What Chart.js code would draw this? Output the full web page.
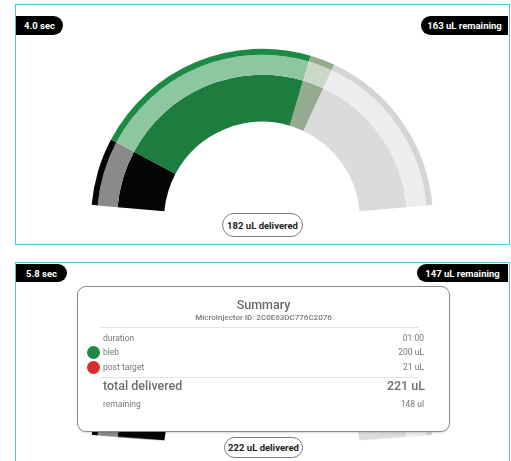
<!DOCTYPE html>
<html>
<head>
<meta charset="utf-8">
<script src="https://cdn.jsdelivr.net/npm/chart.js@4/dist/chart.umd.min.js"></script>
<style>
  html, body { margin: 0; padding: 0; background: #fff; width: 511px; height: 461px; overflow: hidden; font-family: Roboto, "Noto Sans", sans-serif; }
  .panel { position: absolute; box-sizing: border-box; border: 1.5px solid #5bbce9; background: #fff; }
  .pill { position: absolute; background: #000; color: #fff; font-weight: 700; font-size: 9.5px; display: flex; align-items: center; justify-content: center; }
  .delivered { position: absolute; box-sizing: border-box; border: 1px solid #7a7a7a; border-radius: 13px; background: #fff; color: #222; font-weight: 700; font-size: 9.5px; display: flex; align-items: center; justify-content: center; z-index: 5; }
  .gauge { position: absolute; }
  .card { position: absolute; box-sizing: border-box; border: 1px solid #8c8c8c; border-radius: 9px; background: #fff; box-shadow: 0 1px 2px rgba(0,0,0,0.15); z-index: 4; }
  .txt { position: absolute; color: #777; font-size: 8.5px; line-height: 1; z-index: 6; white-space: nowrap; }
  .rule { position: absolute; height: 1px; background: #e2e2e2; z-index: 6; }
  .dot { position: absolute; width: 13px; height: 13px; border-radius: 50%; z-index: 6; }
</style>
</head>
<body>
<div class="panel" style="left:15px;top:4px;width:495px;height:241px;"></div>
<div class="panel" style="left:15px;top:262px;width:495px;height:230px;"></div>

<div class="gauge" style="left:60px;top:40px;width:404px;height:180px;"><canvas id="gaugeTop"></canvas></div>
<div class="gauge" style="left:60px;top:268px;width:404px;height:180px;transform:scaleY(0.87);transform-origin:50% 180px;"><canvas id="gaugeBottom"></canvas></div>

<div class="pill" style="left:16px;top:16px;width:47px;height:19px;border-radius:0 10px 10px 0;">4.0 sec</div>
<div class="pill" style="left:421px;top:16px;width:87px;height:19px;border-radius:10px 0 0 10px;">163 uL remaining</div>
<div class="delivered" style="left:222px;top:213px;width:81px;height:24px;">182 uL delivered</div>

<div class="pill" style="left:16px;top:264px;width:51px;height:18px;border-radius:0 9px 9px 0;">5.8 sec</div>
<div class="pill" style="left:417px;top:264px;width:91px;height:18px;border-radius:9px 0 0 9px;">147 uL remaining</div>
<div class="delivered" style="left:224px;top:437px;width:79px;height:21px;">222 uL delivered</div>

<div class="card" style="left:77px;top:286px;width:373px;height:146px;"></div>
<div id="summary"></div>

<script>
// gauge segments (start, bleb, post target, remaining)
const segmentLabels = ["start", "bleb", "post target", "remaining"];
const gaugeTopValues = [23, 78.5, 8.5, 60];
const gaugeBottomValues = [23, 92, 8.5, 46.5];

// ring colours, outer thin ring -> middle ring -> inner ring
const outerColors = ["#050505", "#1b8a45", "#94ab8f", "#d5d5d5"];
const middleColors = ["#8a8a8a", "#8ec79f", "#cbd8c8", "#ededef"];
const innerColors = ["#050505", "#1c7d3f", "#94ab8f", "#dbdbdb"];

// summary card
const summaryTitle = "Summary";
const summaryId = "MicroInjector ID: 2C0E63DC776C2076";
const summaryRows = ["duration", "bleb", "post target"];
const summaryValues = ["01:00", "200 uL", "21 uL"];
const summaryDots = [null, "#1e8a45", "#d92b2b"];
const totalLabel = "total delivered";
const totalValue = "221 uL";
const remainingLabel = "remaining";
const remainingValue = "148 ul";

const drawGauge = (id, values) => {
  const ctx = document.getElementById(id).getContext("2d");
  const ring = (colors, weight) => ({
    data: values,
    backgroundColor: colors,
    borderWidth: 0,
    weight: weight,
  });
  return new Chart(ctx, {
    type: "doughnut",
    data: {
      labels: segmentLabels,
      datasets: [ring(outerColors, 6), ring(middleColors, 20), ring(innerColors, 47)],
    },
    options: {
      rotation: -85,
      circumference: 170,
      cutout: "57.3%",
      radius: 171,
      animation: false,
      responsive: true,
      maintainAspectRatio: false,
      events: [],
      layout: { padding: 0 },
      plugins: {
        legend: { display: false },
        tooltip: { enabled: false },
      },
    },
  });
};

drawGauge("gaugeTop", gaugeTopValues);
drawGauge("gaugeBottom", gaugeBottomValues);

// summary text
const box = document.getElementById("summary");
const add = (html) => box.insertAdjacentHTML("beforeend", html);

add(`<div class="txt" style="left:77px;width:373px;text-align:center;top:299px;font-size:12.5px;font-weight:500;color:#686868;">${summaryTitle}</div>`);
add(`<div class="txt" style="left:77px;width:373px;text-align:center;top:314px;font-size:8px;font-weight:500;color:#7a7a7a;">${summaryId}</div>`);
add(`<div class="rule" style="left:100px;width:318px;top:327px;"></div>`);

const rowY = [334, 348, 363];
summaryRows.forEach((label, i) => {
  add(`<div class="txt" style="left:103px;top:${rowY[i]}px;">${label}</div>`);
  add(`<div class="txt" style="left:300px;width:124px;text-align:right;top:${rowY[i]}px;">${summaryValues[i]}</div>`);
  if (summaryDots[i]) {
    add(`<div class="dot" style="left:87px;top:${rowY[i] - 2}px;background:${summaryDots[i]};"></div>`);
  }
});

add(`<div class="rule" style="left:100px;width:318px;top:377px;"></div>`);
add(`<div class="txt" style="left:103px;top:380px;font-size:12.5px;font-weight:500;color:#6e6e6e;">${totalLabel}</div>`);
add(`<div class="txt" style="left:300px;width:125px;text-align:right;top:380px;font-size:12.5px;font-weight:500;color:#6e6e6e;">${totalValue}</div>`);
add(`<div class="txt" style="left:103px;top:400px;">${remainingLabel}</div>`);
add(`<div class="txt" style="left:300px;width:124px;text-align:right;top:400px;">${remainingValue}</div>`);
</script>
</body>
</html>
